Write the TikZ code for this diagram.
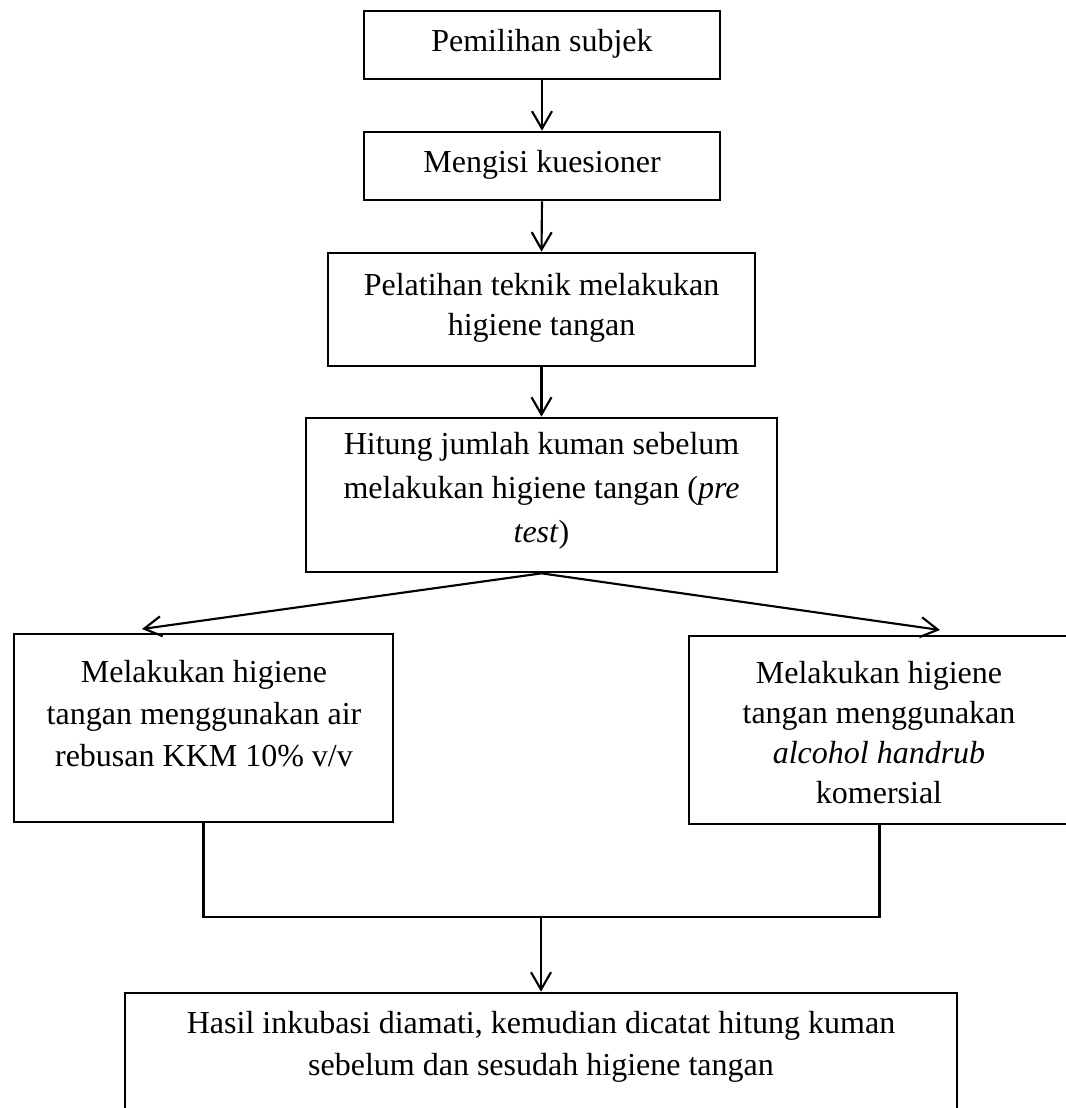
\documentclass[tikz,border=0pt]{standalone}
\usepackage{fontspec}
\setmainfont{Liberation Serif}
\usetikzlibrary{arrows.meta,fit}
\tikzset{
  box/.style={draw, line width=2pt, inner sep=0pt, fit={#1}},
  conn/.style={line width=1.6pt},
  arr/.style={line width=1.6pt, -{Straight Barb[length=13pt,width=15pt,line width=1.6pt]}},
  txt/.style={anchor=base, inner sep=0pt, font=\fontsize{24pt}{31pt}\selectfont}
}
\begin{document}
\begin{tikzpicture}[x=0.75pt,y=-0.75pt]
\useasboundingbox (0,0) rectangle (1066,1108);
\clip (0,0) rectangle (1066,1108);
% boxes
\node[box={(364,11) (720,79)}] (b1) {};
\node[box={(364,132) (720,200)}] (b2) {};
\node[box={(328,253) (755,366)}] (b3) {};
\node[box={(306,418) (777,572)}] (b4) {};
\node[box={(14,634) (393,822)}] (lb) {};
\node[box={(689,636) (1070,824)}] (rb) {};
\node[box={(125,993) (957,1140)}] (bb) {};
% texts
\node[txt] (t1) at (542,51) {Pemilihan subjek};
\node[txt] (t2) at (542,172) {Mengisi kuesioner};
\node[txt] (t3a) at (541.5,295) {Pelatihan teknik melakukan};
\node[txt] (t3b) at (541.5,335) {higiene tangan};
\node[txt] (t4a) at (541.5,454) {Hitung jumlah kuman sebelum};
\node[txt] (t4b) at (541.5,498) {melakukan higiene tangan (\textit{pre}};
\node[txt] (t4c) at (541.5,542) {\textit{test})};
\node[txt] (l1) at (204,682) {Melakukan higiene};
\node[txt] (l2) at (204,724) {tangan menggunakan air};
\node[txt] (l3) at (204,766) {rebusan KKM 10\% v/v};
\node[txt] (r1) at (879,683) {Melakukan higiene};
\node[txt] (r2) at (879,723) {tangan menggunakan};
\node[txt] (r3) at (879,763) {\textit{alcohol handrub}};
\node[txt] (r4) at (879,803) {komersial};
\node[txt] (h1) at (541,1033) {Hasil inkubasi diamati, kemudian dicatat hitung kuman};
\node[txt] (h2) at (541,1075) {sebelum dan sesudah higiene tangan};
% connectors
\draw[arr] (b1.south) -- (b2.north);
\draw[arr] (b2.south) -- (b3.north);
\draw[arr] (b3.south) -- (b4.north);
\coordinate (tl) at (142,629);
\coordinate (tr) at (940,630);
\draw[arr] (b4.south) -- (tl);
\draw[arr] (b4.south) -- (tr);
\coordinate (j) at (541,917);
\draw[conn] (lb.south) |- (j) -| (rb.south);
\draw[arr] (j) -- (bb.north);
\end{tikzpicture}
\end{document}
